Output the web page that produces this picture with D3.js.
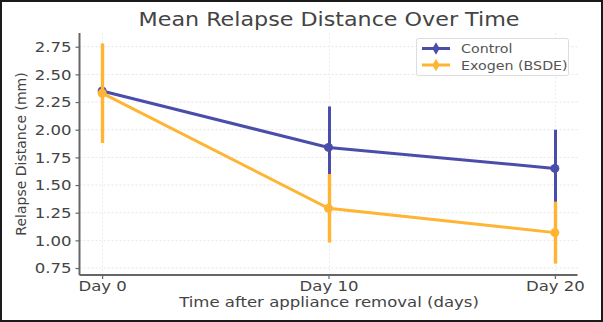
<!DOCTYPE html>
<html><head><meta charset="utf-8">
<script src="https://cdn.jsdelivr.net/npm/d3@7"></script>
<style>
html,body{margin:0;padding:0;background:#fff;}
svg{display:block;font-family:"DejaVu Sans",sans-serif;}
</style></head>
<body>
<svg id="chart" width="603" height="322"></svg>
<script>
const days = [0, 10, 20];
const dayLabels = ["Day 0", "Day 10", "Day 20"];
const controlMean = [2.35, 1.84, 1.65];
const controlErr = [0.35, 0.37, 0.35];
const exogenMean = [2.33, 1.29, 1.07];
const exogenErr = [0.45, 0.31, 0.28];
const yTicks = [0.75, 1.00, 1.25, 1.50, 1.75, 2.00, 2.25, 2.50, 2.75];
const seriesNames = ["Control", "Exogen (BSDE)"];
const colors = ["#4b4dab", "#ffb433"];

const W = 603, H = 322;
const SX = 1.14; // horizontal text stretch seen in the reference
const m = {left: 79.5, right: 25.5, top: 33, bottom: 47};
const svg = d3.select("#chart");

// outer frame
svg.append("rect").attr("x",1).attr("y",1).attr("width",W-2).attr("height",H-2)
  .attr("fill","#fff").attr("stroke","#1a1a1a").attr("stroke-width",2);

const x = d3.scaleLinear().domain([-1, 21]).range([m.left, W - m.right]);
const y = d3.scaleLinear().domain([0.687, 2.874]).range([H - m.bottom, m.top]);
const px = d => Math.round(x(d)) + 0.5;

// grid
const g = svg.append("g");
g.selectAll(".hg").data(yTicks).join("line")
  .attr("x1", m.left).attr("x2", W - m.right)
  .attr("y1", d => y(d)).attr("y2", d => y(d))
  .attr("stroke", "#e6e6e6").attr("stroke-width", 1).attr("stroke-dasharray", "2,2");
g.selectAll(".vg").data(days).join("line")
  .attr("x1", d => px(d)).attr("x2", d => px(d))
  .attr("y1", m.top).attr("y2", H - m.bottom)
  .attr("stroke", "#ededed").attr("stroke-width", 1).attr("stroke-dasharray", "2,2");

// axes
const yAxis = d3.axisLeft(y).tickValues(yTicks).tickFormat(d3.format(".2f")).tickSize(4).tickPadding(3);
const xAxis = d3.axisBottom(x).tickValues(days).tickFormat((d,i) => dayLabels[i]).tickSize(4).tickPadding(2);
const ya = svg.append("g").attr("transform", `translate(${m.left},0)`).call(yAxis);
const xa = svg.append("g").attr("transform", `translate(0,${H - m.bottom})`).call(xAxis);
[ya, xa].forEach(a => {
  a.select(".domain").attr("stroke", "#666").attr("stroke-width", 2);
  a.selectAll(".tick line").attr("stroke", "#666").attr("stroke-width", 1.2);
  a.selectAll(".tick text").attr("fill", "#444").attr("font-size", 14.5)
    .attr("font-family", "DejaVu Sans").attr("transform", `scale(${SX},1)`);
});
ya.select(".domain").attr("d", `M0,${y.range()[1]}V${y.range()[0]}`);
xa.select(".domain").attr("d", `M${x.range()[0]},0H${x.range()[1]}`);

// series
const means = [controlMean, exogenMean];
const errs = [controlErr, exogenErr];
const line = d3.line().x((d,i) => x(days[i])).y(d => y(d));
means.forEach((mv, s) => {
  const sg = svg.append("g");
  sg.selectAll(".eb").data(mv).join("line")
    .attr("x1", (d,i) => px(days[i])).attr("x2", (d,i) => px(days[i]))
    .attr("y1", (d,i) => y(d - errs[s][i])).attr("y2", (d,i) => y(d + errs[s][i]))
    .attr("stroke", colors[s]).attr("stroke-width", s === 1 ? 3.4 : 3);
  sg.append("path").datum(mv).attr("d", line)
    .attr("fill", "none").attr("stroke", colors[s]).attr("stroke-width", 3);
  sg.selectAll("circle").data(mv).join("circle")
    .attr("cx", (d,i) => x(days[i])).attr("cy", d => y(d)).attr("r", 4.5)
    .attr("fill", colors[s]);
});

function stretched(xp, yp) {
  return `translate(${xp},${yp}) scale(${SX},1)`;
}
// title & labels
svg.append("text").attr("transform", stretched(329, 26)).attr("text-anchor", "middle")
  .attr("font-size", 19.5).attr("fill", "#444").text("Mean Relapse Distance Over Time");
svg.append("text").attr("transform", stretched(329, 307)).attr("text-anchor", "middle")
  .attr("font-size", 14.5).attr("fill", "#444").text("Time after appliance removal (days)");
svg.append("text").attr("transform", "translate(26,154) rotate(-90)").attr("text-anchor", "middle")
  .attr("font-size", 14).attr("fill", "#444").text("Relapse Distance (mm)");

// legend
const lg = svg.append("g");
lg.append("rect").attr("x", 416.5).attr("y", 38.5).attr("width", 152).attr("height", 37)
  .attr("rx", 2).attr("fill", "#fff").attr("fill-opacity", 0.85).attr("stroke", "#ddd");
seriesNames.forEach((n, i) => {
  const yy = 48.5 + i * 16.5;
  lg.append("line").attr("x1", 422).attr("x2", 450).attr("y1", yy).attr("y2", yy)
    .attr("stroke", colors[i]).attr("stroke-width", 3);
  lg.append("path").attr("d", d3.symbol(d3.symbolDiamond, 45)())
    .attr("transform", `translate(436,${yy})`).attr("fill", colors[i]);
  lg.append("text").attr("transform", stretched(461, yy + 4.5)).attr("font-size", 12.5)
    .attr("fill", "#555").text(n);
});
</script>
</body></html>
